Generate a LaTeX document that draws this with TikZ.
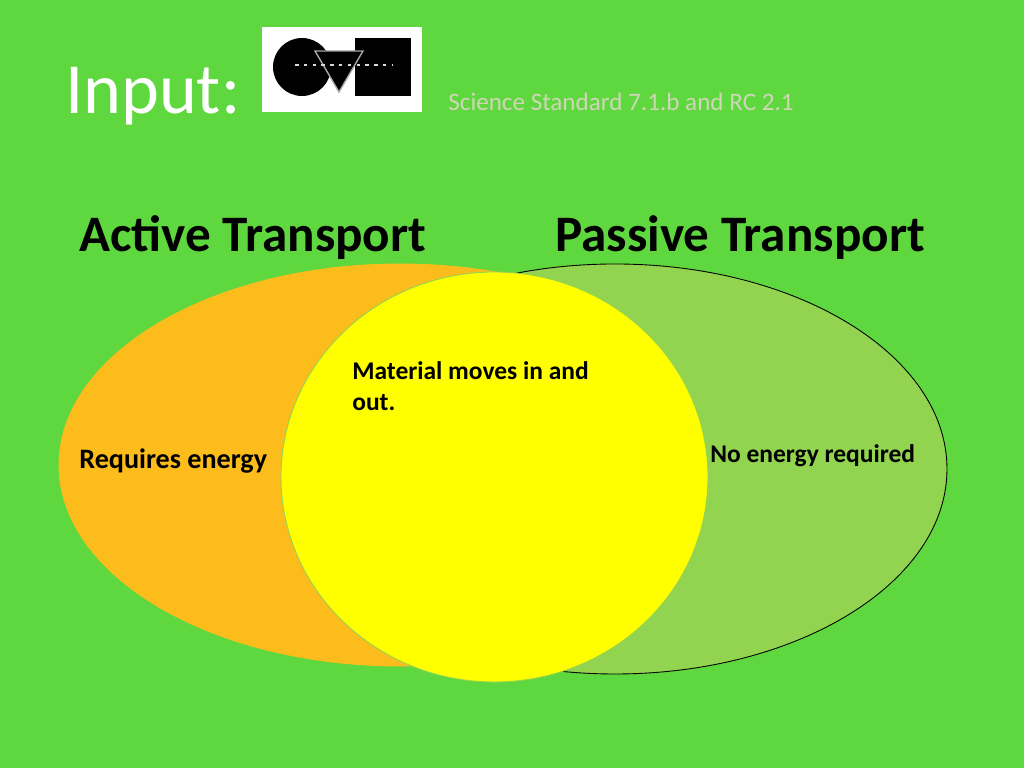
\documentclass[tikz,border=0pt]{standalone}
\usepackage{fontspec}
\setmainfont{Carlito}
\usepackage{xcolor}
\usetikzlibrary{positioning,shapes}
\definecolor{bggreen}{HTML}{5FD83F}
\definecolor{activeorange}{HTML}{FBBC1C}
\definecolor{passivegreen}{HTML}{92D450}
\definecolor{overlapyellow}{HTML}{FFFF00}
\definecolor{stdgrey}{HTML}{CFD6B8}
\tikzset{
  venn/.style={draw, ellipse, inner sep=0pt, line width=0.5pt},
  label/.style={anchor=base west, inner sep=0pt, font=\fontsize{14.5}{17.6}\selectfont\bfseries},
  heading/.style={anchor=base west, inner sep=0pt, font=\fontsize{29.1}{34}\selectfont\bfseries}
}
\begin{document}
\begin{tikzpicture}
            \useasboundingbox (0,0) rectangle (20.48,15.36);
            \fill[bggreen] (0,0) rectangle (20.48,15.36);
            % the three regions
            \draw (8,6.06) node[venn, draw=activeorange, fill=activeorange, minimum width=13.64cm, minimum height=8.04cm] (active) {};
            \draw (12.3,5.98) node[venn, fill=passivegreen, minimum width=13.28cm, minimum height=8.2cm] (passive) {};
            \draw (9.89,5.82) node[venn, draw=passivegreen, fill=overlapyellow, minimum width=8.54cm, minimum height=8.2cm] (overlap) {};
            % title row
            \draw (1.3,13.08) node[anchor=base west, inner sep=0pt, text=white, font=\fontsize{41}{48}\selectfont] (input) {Input:};
            \draw (8.96,13.14) node[anchor=base west, inner sep=0pt, text=stdgrey, font=\fontsize{14.3}{17}\selectfont] (standard) {Science Standard 7.1.b and RC 2.1};
            % logo
            \fill[white] (5.24,13.12) rectangle (8.44,14.82);
            \fill[black] (6.04,14.02) circle (0.58);
            \fill[black] (7.1,13.44) rectangle (8.22,14.6);
            \draw[fill=black, draw=gray!70, line width=0.8pt] (6.3,14.34) -- (7.26,14.34) -- (6.78,13.52) -- cycle;
            \draw[white!85!black, line width=0.8pt, dash pattern=on 2pt off 3pt] (5.9,14.06) -- (7.86,14.06);
            % headings and labels
            \draw (1.58,10.32) node[heading] (activetitle) {Active Transport};
            \draw (11.1,10.32) node[heading] (passivetitle) {Passive Transport};
            \draw (1.58,5.98) node[label, font=\fontsize{16}{19}\selectfont\bfseries] (requires) {Requires energy};
            \draw (14.2,6.1) node[label] (noenergy) {No energy required};
            \draw (7.04,7.76) node[label] (moves) {Material moves in and};
            \draw (7.04,7.14) node[label] (out) {out.};
\end{tikzpicture}
\end{document}
